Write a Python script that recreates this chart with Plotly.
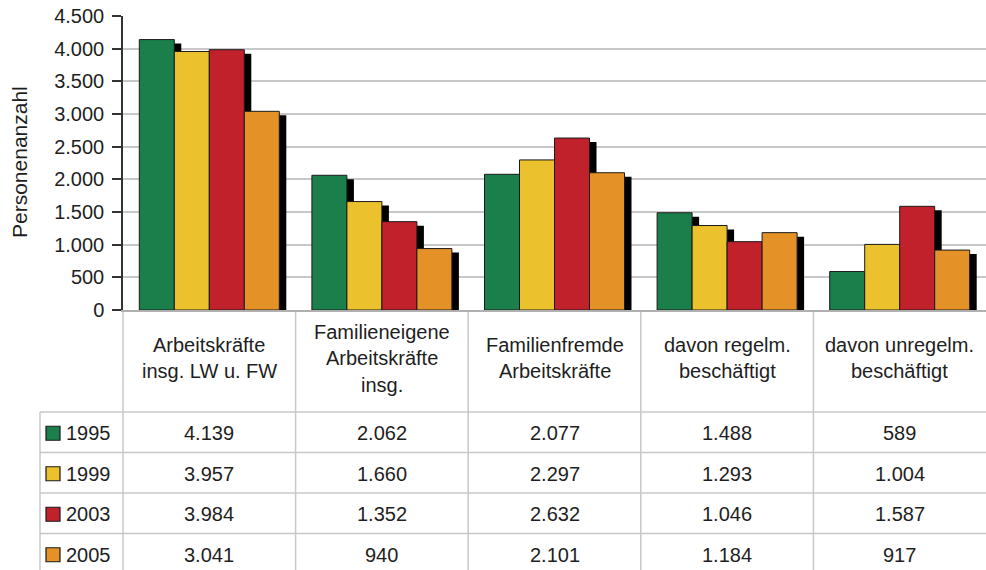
import plotly.graph_objects as go

# ---------------- data ----------------
categories = [
    "Arbeitskräfte<br>insg. LW u. FW",
    "Familieneigene<br>Arbeitskräfte<br>insg.",
    "Familienfremde<br>Arbeitskräfte",
    "davon regelm.<br>beschäftigt",
    "davon unregelm.<br>beschäftigt",
]
years = ["1995", "1999", "2003", "2005"]
v1995 = [4139, 2062, 2077, 1488, 589]
v1999 = [3957, 1660, 2297, 1293, 1004]
v2003 = [3984, 1352, 2632, 1046, 1587]
v2005 = [3041, 940, 2101, 1184, 917]
series = [v1995, v1999, v2003, v2005]
colors = ["#1b7f4b", "#ecc12e", "#c1212b", "#e49228"]
y_title = "Personenanzahl"
y_ticks = [0, 500, 1000, 1500, 2000, 2500, 3000, 3500, 4000, 4500]

# ---------------- geometry ----------------
FIG_W, FIG_H = 986, 570
L, R, T, B = 123, 0, 16, 260
W = FIG_W - L - R
H = FIG_H - T - B
YMAX = 4500
ncat = len(categories)
cat_px = W / ncat

def px2x(px):  # pixel -> paper x
    return (px - L) / W

def py2y(py):  # pixel -> paper y
    return (FIG_H - B - py) / H

FONT = "Arial, Liberation Sans, sans-serif"
TXT = "#1e1e1e"
LINE = "#c8c8c8"
FS = 20

bar_w = 35 / cat_px
grp_w = bar_w * len(series)
sh_dx = 7 / cat_px
sh_dy = 4 * YMAX / H

xs = list(range(ncat))
fig = go.Figure()

# shadows first
for i, vals in enumerate(series):
    off = -grp_w / 2 + i * bar_w
    fig.add_trace(go.Bar(
        x=xs, y=vals, base=[-sh_dy] * ncat, offset=off + sh_dx, width=bar_w,
        marker=dict(color="#000000", line=dict(width=0)),
        showlegend=False, hoverinfo="skip"))
# main bars
for i, vals in enumerate(series):
    off = -grp_w / 2 + i * bar_w
    fig.add_trace(go.Bar(
        x=xs, y=vals, offset=off, width=bar_w, name=years[i],
        marker=dict(color=colors[i], line=dict(color="#1a1a1a", width=1)),
        showlegend=False))

shapes = []
ann = []

# y axis title
ann.append(dict(text=y_title, xref="paper", yref="paper", x=px2x(19), y=py2y(162),
                textangle=-90, showarrow=False, font=dict(size=21, color=TXT, family=FONT),
                xanchor="center", yanchor="middle"))

# ---------------- table ----------------
top_tab = 312
hdr_bot = 412
row_h = 40.5
row_lines = [hdr_bot + k * row_h for k in range(len(years))]
left_px = 40

# vertical lines (category boundaries)
for k in range(ncat):
    xp = k / ncat
    shapes.append(dict(type="line", xref="paper", yref="paper", x0=xp, x1=xp,
                       y0=py2y(top_tab), y1=py2y(FIG_H + 2),
                       line=dict(color=LINE, width=1.5)))
# left border of legend column
shapes.append(dict(type="line", xref="paper", yref="paper", x0=px2x(left_px), x1=px2x(left_px),
                   y0=py2y(hdr_bot), y1=py2y(FIG_H + 2), line=dict(color=LINE, width=1.5)))
# horizontal lines
for yl in row_lines:
    shapes.append(dict(type="line", xref="paper", yref="paper", x0=px2x(left_px), x1=1,
                       y0=py2y(yl), y1=py2y(yl), line=dict(color=LINE, width=1.5)))

# header labels
line_sp = 26.5
hdr_c = 358
for i, cat in enumerate(categories):
    parts = cat.split("<br>")
    n = len(parts)
    for j, p in enumerate(parts):
        yc = hdr_c + (j - (n - 1) / 2) * line_sp
        ann.append(dict(text=p, xref="x", yref="paper", x=xs[i], y=py2y(yc),
                        showarrow=False, xanchor="center", yanchor="middle",
                        font=dict(size=FS, color=TXT, family=FONT)))

# rows
for r, vals in enumerate(series):
    yc = row_lines[r] + row_h / 2 + 1
    # legend key
    shapes.append(dict(type="rect", xref="paper", yref="paper",
                       x0=px2x(46), x1=px2x(60), y0=py2y(yc + 7), y1=py2y(yc - 7),
                       fillcolor=colors[r], line=dict(color="#1a1a1a", width=1.2)))
    ann.append(dict(text=years[r], xref="paper", yref="paper", x=px2x(64), y=py2y(yc),
                    showarrow=False, xanchor="left", yanchor="middle",
                    font=dict(size=FS, color=TXT, family=FONT)))
    for i, v in enumerate(vals):
        ann.append(dict(text=f"{v:,}".replace(",", "."), xref="x", yref="paper",
                        x=xs[i], y=py2y(yc), showarrow=False,
                        xanchor="center", yanchor="middle",
                        font=dict(size=FS, color=TXT, family=FONT)))

fig.update_layout(
    width=FIG_W, height=FIG_H,
    margin=dict(l=L, r=R, t=T, b=B, pad=0),
    paper_bgcolor="white", plot_bgcolor="white",
    barmode="overlay",
    separators=",.",
    font=dict(family=FONT, color=TXT),
    shapes=shapes, annotations=ann,
    xaxis=dict(range=[-0.5, ncat - 0.5], showticklabels=False, ticks="",
               showgrid=False, zeroline=False, showline=True,
               linecolor="#b0b0b0", linewidth=1.5, fixedrange=True),
    yaxis=dict(range=[0, YMAX], tickvals=y_ticks, tickformat=",d",
               showgrid=True, gridcolor=LINE, gridwidth=1.5,
               zeroline=False, showline=True, linecolor="#333333", linewidth=1.5,
               ticks="outside", ticklen=9, tickwidth=1.5, tickcolor="#333333",
               ticklabelstandoff=4,
               tickfont=dict(size=FS, color=TXT, family=FONT)),
)

fig.write_html("out.html")
